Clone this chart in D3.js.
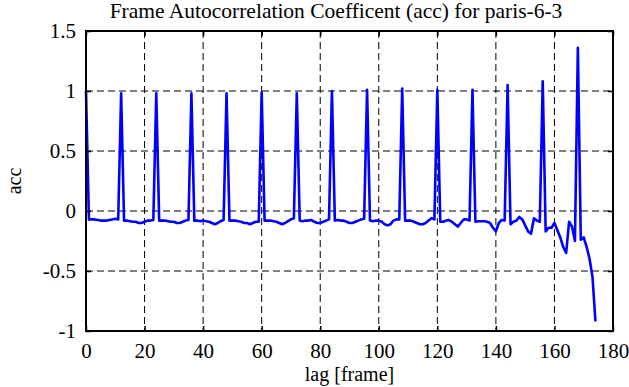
<!DOCTYPE html>
<html>
<head>
<meta charset="utf-8">
<script src="https://cdn.jsdelivr.net/npm/d3@7"></script>
<style>
  body { margin: 0; background: #fff; }
  svg { display: block; font-family: "Liberation Serif", "DejaVu Serif", serif; }
</style>
</head>
<body>
<svg id="chart" width="629" height="387"></svg>
<script>
// acc value for each lag 0..174 [frame]
const acc = [
  1.0,
  -0.07, -0.07, -0.07, -0.075, -0.08, -0.08, -0.08, -0.075, -0.07, -0.065, -0.07,
  0.98,
  -0.08, -0.08, -0.085, -0.09, -0.09, -0.1, -0.1, -0.09, -0.08, -0.08, -0.075,
  0.98,
  -0.08, -0.08, -0.08, -0.085, -0.09, -0.09, -0.1, -0.1, -0.09, -0.08, -0.075,
  0.98,
  -0.08, -0.08, -0.085, -0.08, -0.085, -0.09, -0.1, -0.11, -0.1, -0.085, -0.075,
  0.98,
  -0.08, -0.08, -0.08, -0.085, -0.09, -0.1, -0.1, -0.11, -0.1, -0.09, -0.09,
  0.99,
  -0.08, -0.08, -0.08, -0.085, -0.09, -0.1, -0.11, -0.1, -0.085, -0.07, -0.06,
  0.98,
  -0.08, -0.085, -0.08, -0.08, -0.075, -0.09, -0.1, -0.1, -0.09, -0.08, -0.07,
  1.0,
  -0.08, -0.075, -0.08, -0.08, -0.09, -0.1, -0.1, -0.09, -0.08, -0.07, -0.065,
  1.01,
  -0.08, -0.085, -0.08, -0.08, -0.09, -0.11, -0.12, -0.11, -0.08, -0.07, -0.07,
  1.02,
  -0.08, -0.08, -0.08, -0.09, -0.1, -0.11, -0.11, -0.1, -0.08, -0.06, -0.07,
  1.01,
  -0.09, -0.09, -0.08, -0.075, -0.09, -0.11, -0.13, -0.1, -0.07, -0.07, -0.08,
  1.01,
  -0.09, -0.085, -0.085, -0.085, -0.09, -0.1, -0.14, -0.17, -0.1, -0.075, -0.08,
  1.05,
  -0.11, -0.09, -0.08, -0.05, -0.07, -0.12, -0.17, -0.19, -0.06, -0.08, -0.09,
  1.08,
  -0.17, -0.14, -0.14, -0.1, -0.16, -0.22, -0.3, -0.35, -0.09, -0.13, -0.25,
  1.36,
  -0.24, -0.22, -0.3, -0.4, -0.55, -0.92
];
const xTicks = [0, 20, 40, 60, 80, 100, 120, 140, 160, 180];
const yTicks = [-1, -0.5, 0, 0.5, 1, 1.5];

const svg = d3.select("#chart");
const margin = { top: 31, right: 16, bottom: 56, left: 86 };
const width = 629, height = 387;

const x = d3.scaleLinear().domain([0, 180]).range([margin.left, width - margin.right]);
const y = d3.scaleLinear().domain([-1, 1.5]).range([height - margin.bottom, margin.top]);

// dashed grid
svg.append("g")
  .selectAll("line")
  .data(xTicks.slice(1, -1))
  .join("line")
  .attr("x1", d => x(d)).attr("x2", d => x(d))
  .attr("y1", y(1.5)).attr("y2", y(-1))
  .attr("stroke", "#000").attr("stroke-dasharray", "7,4");
svg.append("g")
  .selectAll("line")
  .data(yTicks.slice(1, -1))
  .join("line")
  .attr("x1", x(0)).attr("x2", x(180))
  .attr("y1", d => y(d)).attr("y2", d => y(d))
  .attr("stroke", "#000").attr("stroke-dasharray", "7,4");

// data line
const line = d3.line().x((d, i) => x(i)).y(d => y(d));
svg.append("path")
  .datum(acc)
  .attr("d", line)
  .attr("fill", "none")
  .attr("stroke", "#0000ff")
  .attr("stroke-width", 2.6)
  .attr("stroke-linejoin", "round");

// axes with inward ticks
const fmt = d => String(d);
svg.append("g")
  .attr("transform", `translate(0,${y(-1)})`)
  .call(d3.axisBottom(x).tickValues(xTicks).tickSize(-5).tickPadding(12).tickFormat(fmt))
  .call(g => g.select(".domain").remove());
svg.append("g")
  .attr("transform", `translate(0,${y(1.5)})`)
  .call(d3.axisTop(x).tickValues(xTicks).tickSize(-5).tickFormat(""))
  .call(g => g.select(".domain").remove());
svg.append("g")
  .attr("transform", `translate(${x(0)},0)`)
  .call(d3.axisLeft(y).tickValues(yTicks).tickSize(-5).tickPadding(10).tickFormat(fmt))
  .call(g => g.select(".domain").remove());
svg.append("g")
  .attr("transform", `translate(${x(180)},0)`)
  .call(d3.axisRight(y).tickValues(yTicks).tickSize(-5).tickFormat(""))
  .call(g => g.select(".domain").remove());

svg.selectAll(".tick line").attr("stroke", "#000").attr("stroke-width", 1.5);
svg.selectAll(".tick text")
  .attr("fill", "#000")
  .style("font-family", "Liberation Serif, DejaVu Serif, serif")
  .style("font-size", "21px");

// frame
svg.append("rect")
  .attr("x", x(0)).attr("y", y(1.5))
  .attr("width", x(180) - x(0)).attr("height", y(-1) - y(1.5))
  .attr("fill", "none").attr("stroke", "#000").attr("stroke-width", 2);

// labels
svg.append("text")
  .attr("x", 336).attr("y", 18)
  .attr("text-anchor", "middle")
  .style("font-size", "21.5px")
  .text("Frame Autocorrelation Coefficent (acc) for paris-6-3");
svg.append("text")
  .attr("x", (x(0) + x(180)) / 2).attr("y", 381)
  .attr("text-anchor", "middle")
  .style("font-size", "20px")
  .text("lag [frame]");
svg.append("text")
  .attr("transform", `translate(21,${(y(1.5) + y(-1)) / 2}) rotate(-90)`)
  .attr("text-anchor", "middle")
  .style("font-size", "20px")
  .text("acc");
</script>
</body>
</html>
